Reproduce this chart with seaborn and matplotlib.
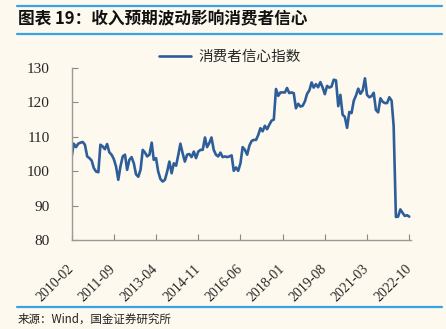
import matplotlib
matplotlib.use("Agg")
import matplotlib.pyplot as plt
import seaborn as sns
import pandas as pd
from matplotlib.lines import Line2D

# ---- data ----
start_month = "2010-02"
series_name = "消费者信心指数"
values = [
    104.3, 108.0, 107.0, 108.0, 108.3, 108.5, 107.7, 104.3, 103.8, 103.1, 100.9, 99.9,
    99.7, 107.7, 107.2, 106.4, 107.9, 105.5, 104.8, 103.5, 101.4, 97.5, 101.4, 104.3,
    104.8, 100.4, 103.3, 104.1, 102.3, 99.1, 98.4, 100.4, 106.2, 105.4, 104.3, 104.8,
    108.3, 103.3, 103.8, 99.9, 97.7, 97.0, 97.5, 99.9, 102.8, 99.4, 102.3, 101.6,
    104.8, 108.0, 105.2, 102.8, 104.8, 105.0, 104.1, 105.7, 103.8, 105.7, 106.2, 106.2,
    109.8, 107.0, 108.2, 109.8, 106.2, 104.8, 104.3, 105.4, 104.1, 104.3, 104.1, 104.3,
    104.6, 100.1, 101.1, 100.1, 102.3, 107.0, 106.2, 104.8, 107.4, 108.8, 109.1, 109.1,
    110.6, 112.5, 111.6, 113.2, 112.2, 113.5, 114.7, 115.0, 123.9, 121.9, 122.9, 122.9,
    122.9, 124.2, 122.7, 122.9, 122.7, 118.3, 119.6, 118.8, 119.0, 120.3, 122.5, 123.5,
    125.8, 124.3, 125.3, 124.4, 125.9, 124.4, 122.4, 124.8, 124.3, 124.6, 126.6, 126.4,
    118.9, 122.2, 116.4, 115.8, 112.6, 117.2, 116.9, 120.5, 122.0, 124.0, 122.5, 123.5,
    127.0, 122.2, 121.5, 121.8, 122.8, 117.8, 117.1, 121.2, 120.2, 119.8, 119.8, 121.5,
    120.5, 113.2, 86.7, 86.8, 88.9, 87.9, 87.0, 87.2, 86.8,
]
tick_labels = ["2010-02", "2011-09", "2013-04", "2014-11", "2016-06",
               "2018-01", "2019-08", "2021-03", "2022-10"]
y_ticks = [80, 90, 100, 110, 120, 130]
title = "图表 19：收入预期波动影响消费者信心"
source = "来源：Wind，国金证券研究所"

dates = pd.date_range(start_month, periods=len(values), freq="MS")
df = pd.DataFrame({"date": dates, "value": values})

# ---- style ----
bg = "#FDF9EE"
line_color = "#2E5E9A"
rule_color = "#3AA3E3"
sns.set_style("ticks")
plt.rcParams["font.family"] = ["Noto Sans CJK SC", "DejaVu Sans"]

fig = plt.figure(figsize=(4.46, 3.29), dpi=100, facecolor=bg)
ax = fig.add_axes([0.1608, 0.2705, 0.9209 - 0.1608, 0.7933 - 0.2705])
ax.set_facecolor(bg)

sns.lineplot(data=df, x="date", y="value", ax=ax, color=line_color,
             linewidth=1.9, legend=False)

ax.set_ylim(80, 130)
ax.set_yticks(y_ticks)
tick_dates = pd.to_datetime(tick_labels)
ax.set_xticks(tick_dates)
ax.set_xlim(dates[0], dates[-1] + pd.Timedelta(days=20))

serif = "Liberation Serif"
ax.set_yticklabels([str(v) for v in y_ticks], fontsize=11, family=serif)
ax.set_xticklabels(tick_labels, fontsize=10, family=serif, rotation=45,
                   ha="right", va="center", rotation_mode="anchor")
ax.tick_params(axis="y", direction="in", length=4, width=0.8, color="#888888", pad=16)
ax.tick_params(axis="x", direction="in", length=4, width=0.8, color="#888888", pad=19.5)
ax.set_xlabel("")
ax.set_ylabel("")
for s in ["top", "right"]:
    ax.spines[s].set_visible(False)
for s in ["left", "bottom"]:
    ax.spines[s].set_color("#999999")
    ax.spines[s].set_linewidth(1.0)

handle = Line2D([0], [0], color=line_color, linewidth=1.9)
fig.legend([handle], [series_name], loc="center", bbox_to_anchor=(0.516, 0.827),
           frameon=False, fontsize=10.5, handlelength=2.2, handletextpad=0.5)

# header / footer
fig.add_artist(Line2D([0.038, 0.991], [1 - 6 / 329] * 2, color=rule_color, lw=1.6))
fig.add_artist(Line2D([0.038, 0.991], [1 - 33.5 / 329] * 2, color=rule_color, lw=1.6))
fig.add_artist(Line2D([0.038, 0.991], [1 - 306.5 / 329] * 2, color=rule_color, lw=1.6))
fig.text(0.040, 1 - 19 / 329, title, fontsize=12, fontweight="bold", style="italic",
         va="center", ha="left", color="#111111")
fig.text(0.040, 1 - 319 / 329, source, fontsize=8.3, va="center", ha="left",
         color="#222222")

fig.savefig("out.png", dpi=100, facecolor=bg)
